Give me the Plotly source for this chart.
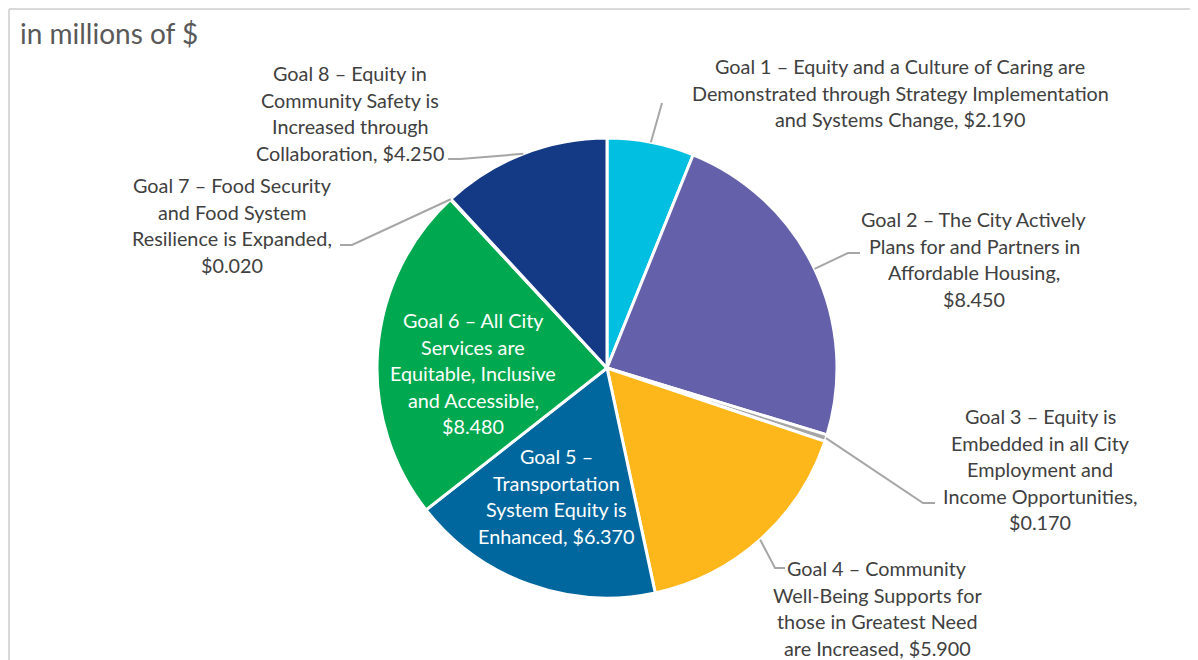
import math
import plotly.graph_objects as go

goals = ["Goal 1", "Goal 2", "Goal 3", "Goal 4", "Goal 5", "Goal 6", "Goal 7", "Goal 8"]
values = [2.19, 8.45, 0.17, 5.90, 6.37, 8.48, 0.02, 4.25]
label_lines = [
    ["Goal 1 – Equity and a Culture of Caring are", "Demonstrated through Strategy Implementation", "and Systems Change, $2.190"],
    ["Goal 2 – The City Actively", "Plans for and Partners in", "Affordable Housing,", "$8.450"],
    ["Goal 3 – Equity is", "Embedded in all City", "Employment and", "Income Opportunities,", "$0.170"],
    ["Goal 4 – Community", "Well-Being Supports for", "those in Greatest Need", "are Increased, $5.900"],
    ["Goal 5 –", "Transportation", "System Equity is", "Enhanced, $6.370"],
    ["Goal 6 – All City", "Services are", "Equitable, Inclusive", "and Accessible,", "$8.480"],
    ["Goal 7 – Food Security", "and Food System", "Resilience is Expanded,", "$0.020"],
    ["Goal 8 – Equity in", "Community Safety is", "Increased through", "Collaboration, $4.250"],
]
colors = ["#00BFE0", "#6460AA", "#A5A5A5", "#FDB71A", "#00679E", "#00A84F", "#7F7F7F", "#143A86"]

OFF = 8  # page body margin
W, H = 1198 - OFF, 660 - OFF
# screen-pixel geometry of the pie
SCX, SCY, R = 607, 368, 230
CX, CY = SCX - OFF, SCY - OFF
L = CX - R
ML, MT, MR, MB = L, CY - R, W - (CX + R), H - (CY + R)

def px(x):  # screen px -> paper
    return (x - OFF - L) / (2 * R)

def py(y):
    return (CY + R - (y - OFF)) / (2 * R)

# label layout: (center x px, first line y px, inside?) in screen px
label_pos = [
    (900, 66, False),
    (974, 219, False),
    (1040, 416, False),
    (877, 568, False),
    (556, 456, True),
    (473, 320, True),
    (232, 185, False),
    (350, 73, False),
]
elbows = {
    0: [(662, 103)],
    1: [(848, 253), (860, 253)],
    2: [(923, 503), (935, 503)],
    3: [(775, 568), (785, 568)],
    6: [(352, 245), (340, 245)],
    7: [(460, 159), (448, 159)],
}
LINE_GAP = 26.6
FONT = "Lato"

fig = go.Figure(go.Pie(
    labels=goals, values=values, sort=False, direction="clockwise", rotation=0,
    marker=dict(colors=colors, line=dict(color="white", width=3)),
    textinfo="none", hoverinfo="label+value", showlegend=False,
))

annotations = []
for i, lines in enumerate(label_lines):
    cx, y0, inside = label_pos[i]
    for k, line in enumerate(lines):
        annotations.append(dict(
            x=px(cx), y=py(y0 + k * LINE_GAP), xref="paper", yref="paper",
            text=line, showarrow=False, xanchor="center", yanchor="middle",
            font=dict(family=FONT, size=19.8, color="white" if inside else "#404040"),
        ))
annotations.append(dict(
    x=px(18), y=py(33), xref="paper", yref="paper", text="in millions of $",
    showarrow=False, xanchor="left", yanchor="middle",
    font=dict(family=FONT, size=28, color="#595959"),
))

shapes = []
total = sum(values)
cum = 0.0
for i, v in enumerate(values):
    mid = (cum + v / 2) / total * 2 * math.pi
    cum += v
    if i not in elbows:
        continue
    sx = SCX + R * math.sin(mid)
    sy = SCY - R * math.cos(mid)
    pts = [(sx, sy)] + elbows[i]
    path = "M " + " L ".join(f"{px(x)},{py(y)}" for x, y in pts)
    shapes.append(dict(type="path", path=path, xref="paper", yref="paper",
                       line=dict(color="#A6A6A6", width=2)))

shapes.append(dict(type="line", xref="paper", yref="paper", x0=px(9), y0=py(9), x1=px(1198), y1=py(9),
                   line=dict(color="#D9D9D9", width=2)))
shapes.append(dict(type="line", xref="paper", yref="paper", x0=px(9), y0=py(9), x1=px(9), y1=py(660),
                   line=dict(color="#D9D9D9", width=2)))

fig.update_layout(
    width=W, height=H,
    margin=dict(l=ML, r=MR, t=MT, b=MB, autoexpand=False),
    paper_bgcolor="white", plot_bgcolor="white",
    annotations=annotations, shapes=shapes,
)
fig.write_html("out.html")
